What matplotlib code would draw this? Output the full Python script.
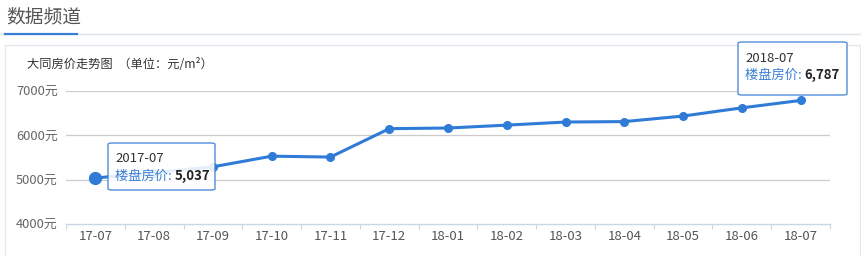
import matplotlib
matplotlib.use('Agg')
import matplotlib.pyplot as plt
from matplotlib.patches import FancyBboxPatch
from matplotlib.lines import Line2D
import numpy as np

plt.rcParams['font.family'] = ['Noto Sans CJK SC', 'DejaVu Sans']

months = ['17-07', '17-08', '17-09', '17-10', '17-11', '17-12', '18-01',
          '18-02', '18-03', '18-04', '18-05', '18-06', '18-07']
prices = [5037, 5160, 5290, 5530, 5510, 6150, 6165, 6230, 6300, 6310, 6435, 6620, 6787]
yticks = [4000, 5000, 6000, 7000]

W, H = 862, 256
fig = plt.figure(figsize=(W / 100, H / 100), dpi=100)

def fx(px):
    return px / W

def fy(py):
    return 1 - py / H

# header
fig.text(fx(6), fy(17), '数据频道', fontsize=13.5, color='#555555', va='center', ha='left')
fig.add_artist(Line2D([fx(0), fx(W)], [fy(34), fy(34)], color='#dde3ea', lw=1))
fig.add_artist(Line2D([fx(5), fx(77)], [fy(34), fy(34)], color='#3a7fd5', lw=1.6))

# panel border
fig.add_artist(Line2D([fx(5), fx(860)], [fy(45), fy(45)], color='#e3e9ef', lw=1))
fig.add_artist(Line2D([fx(5), fx(5)], [fy(45), fy(256)], color='#e3e9ef', lw=1))
fig.add_artist(Line2D([fx(860), fx(860)], [fy(45), fy(256)], color='#e3e9ef', lw=1))

fig.text(fx(27), fy(64), '大同房价走势图  （单位：元/m²）', fontsize=8.8, color='#333333',
         va='center', ha='left')

ax = fig.add_axes([fx(66), fy(224), fx(830) - fx(66), fy(91) - fy(224)])
x = np.arange(len(months))
ax.set_xlim(-0.5, len(months) - 0.5)
ax.set_ylim(4000, 7000)

for v in yticks[1:]:
    ax.axhline(v, color='#cccccc', lw=0.9, zorder=1)

ax.plot(x, prices, color='#2f7bd6', lw=2.2, marker='o', markersize=5.5, zorder=3,
        solid_capstyle='round')
ax.plot(x[0], prices[0], 'o', color='#2f7bd6', markersize=8.5, zorder=4)

ax.set_yticks(yticks)
ax.set_yticklabels([f'{v}元' for v in yticks])
ax.set_xticks(x)
ax.set_xticklabels(months)
ax.set_xticks(np.arange(-0.5, len(months), 1), minor=True)
ax.tick_params(axis='y', length=0, pad=6, labelsize=9.3, labelcolor='#666666')
ax.tick_params(axis='x', which='major', length=0, pad=4, labelsize=9.5, labelcolor='#555555')
ax.tick_params(axis='x', which='minor', length=3.5, color='#c9d6e3', width=0.8)

for s in ['top', 'right', 'left']:
    ax.spines[s].set_visible(False)
ax.spines['bottom'].set_color('#c9d6e3')
ax.spines['bottom'].set_linewidth(1)
ax.set_facecolor('none')

# tooltips
def tooltip(x0, y0, x1, y1, date, value):
    box = FancyBboxPatch((fx(x0), fy(y1)), fx(x1) - fx(x0), fy(y0) - fy(y1),
                         boxstyle='round,pad=0,rounding_size=0.005',
                         transform=fig.transFigure, facecolor='white', alpha=0.88,
                         edgecolor='#3a7fd5', lw=1, zorder=10)
    fig.add_artist(box)
    fig.text(fx(x0 + 7), fy(y0 + 16), date, fontsize=9.5, color='#333333',
             va='center', ha='left', zorder=11)
    t = fig.text(fx(x0 + 7), fy(y0 + 33), '楼盘房价: ', fontsize=9.5, color='#3a7fd5',
                 va='center', ha='left', zorder=11)
    fig.canvas.draw()
    bb = t.get_window_extent()
    fig.text(bb.x1 / W, fy(y0 + 33), f'{value:,}', fontsize=9.5, color='#222222',
             fontweight='bold', va='center', ha='left', zorder=11)

tooltip(108, 143, 215, 190, '2017-07', prices[0])
tooltip(738, 42, 847, 95, '2018-07', prices[-1])

fig.savefig('out.png', dpi=100)
